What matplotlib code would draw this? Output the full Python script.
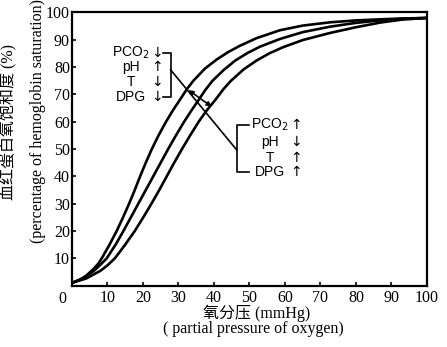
import matplotlib
matplotlib.use('Agg')
import matplotlib.pyplot as plt

# oxygen-hemoglobin dissociation curves
left_x = [0, 2, 4, 6, 7.4, 8.4, 10.5, 12.6, 14.4, 16.1, 17.7, 19.2, 20.8, 22.5, 24.4, 26.5, 28.5,
          30.4, 32.3, 34.2, 37.5, 40.8, 44, 47.3, 52, 58.6, 65, 72.7, 80, 86.8, 93, 100]
left_y = [1, 2.0, 3.6, 6.0, 8.0, 10, 14.8, 20, 25, 30, 35, 40, 45, 50, 55, 60, 64.3,
          68, 71.8, 75, 79.5, 82.8, 85.5, 87.8, 90.6, 93.5, 95.2, 96.4, 97.1, 97.5, 97.8, 98]

mid_x = [0, 3, 6, 8, 9.8, 12.3, 14.5, 16.6, 18.7, 20.8, 22.9, 25, 27.1, 29.3, 31.6, 33.6, 35.6,
         37.5, 39.6, 42.8, 46, 49.5, 53, 58.6, 65, 72.7, 80, 86.8, 93, 100]
mid_y = [1, 2.6, 5.2, 7.6, 10, 15, 20, 25, 30, 35, 40, 45, 50, 55, 60, 64, 67.8,
         71.5, 75, 79, 82.4, 85.2, 87.5, 90.3, 92.8, 94.8, 96.2, 97.1, 97.7, 98]

right_x = [0, 4, 8, 10, 12.1, 15, 17.7, 20.1, 22.4, 24.6, 26.7, 28.8, 31, 33.3, 35.7, 38, 40.4,
           42.6, 44.8, 48.4, 52, 55.7, 59.5, 65, 72.7, 80, 86.8, 93, 100]
right_y = [1, 2.6, 5.4, 7.4, 10, 15, 20, 25, 30, 35, 40, 45, 50, 55, 60, 64.2, 68,
           71.8, 75, 79.2, 82.4, 85.1, 87.3, 89.9, 92.5, 94.6, 96.3, 97.4, 98]

x_ticks = [10, 20, 30, 40, 50, 60, 70, 80, 90, 100]
y_ticks = [10, 20, 30, 40, 50, 60, 70, 80, 90, 100]

factors = ["PCO$_2$", "pH", "T", "DPG"]
left_arrows = ["↓", "↑", "↓", "↓"]    # curve shifted left
right_arrows = ["↑", "↓", "↑", "↑"]   # curve shifted right

serif = ['Liberation Serif', 'Noto Sans CJK SC']
sans = ['Liberation Sans', 'DejaVu Sans']

fig = plt.figure(figsize=(4.47, 3.47), dpi=100)
ax = fig.add_axes([0.161, 0.177, 0.794, 0.787])

for xs, ys in [(left_x, left_y), (mid_x, mid_y), (right_x, right_y)]:
    ax.plot(xs, ys, color='black', lw=1.9, solid_joinstyle='round', solid_capstyle='round')

ax.set_xlim(0, 100)
ax.set_ylim(0, 100)
ax.set_xticks(x_ticks)
ax.set_yticks(y_ticks)
ax.tick_params(direction='in', length=3, width=1.2, labelsize=11.5)
ax.tick_params(axis='x', pad=3)
ax.tick_params(axis='y', pad=1.5)
for lab in ax.get_xticklabels() + ax.get_yticklabels():
    lab.set_family(serif)
for sp in ax.spines.values():
    sp.set_linewidth(1.6)
ax.text(-2.8, -2.0, "0", ha='center', va='top', fontsize=11.5, family=serif, clip_on=False)

# factor brackets
rows1 = [85.3, 80.2, 74.7, 69.2]
rows2 = [58.8, 52.6, 46.7, 41.7]
for name, a, y in zip(factors, left_arrows, rows1):
    ax.text(16.6, y, name, ha='center', va='center', fontsize=10, family=sans)
    ax.text(24.0, y, a, ha='center', va='center', fontsize=10, family=['DejaVu Sans'])
for name, a, y in zip(factors, right_arrows, rows2):
    ax.text(55.8, y, name, ha='center', va='center', fontsize=10, family=sans)
    ax.text(63.0, y, a, ha='center', va='center', fontsize=10, family=['DejaVu Sans'])

ax.plot([25.6, 27.8, 27.8, 25.6], [85.3, 85.3, 69.2, 69.2], color='black', lw=1.2)
ax.plot([50.0, 46.4, 46.4, 50.0], [58.8, 58.8, 41.7, 41.7], color='black', lw=1.2)
ax.plot([27.8, 46.4], [79.0, 49.7], color='black', lw=1.2)
ax.annotate("", xy=(39.4, 65.5), xytext=(32.8, 71.6),
            arrowprops=dict(arrowstyle='<|-|>', color='black', lw=1.2,
                            mutation_scale=7, shrinkA=0, shrinkB=0))

# axis titles
fig.text(0.020, 0.647, "血红蛋白氧饱和度 (%)", rotation=90, ha='center', va='center',
         fontsize=11.5, family=serif)
fig.text(0.085, 0.65, "(percentage of hemoglobin saturation)", rotation=90,
         ha='center', va='center', fontsize=11.5, family=serif)
fig.text(0.573, 0.098, "氧分压 (mmHg)", ha='center', va='center', fontsize=11.5, family=serif)
fig.text(0.566, 0.052, "( partial pressure of oxygen)", ha='center', va='center',
         fontsize=11.5, family=serif)

fig.savefig("out.png", dpi=100)
plt.close(fig)
